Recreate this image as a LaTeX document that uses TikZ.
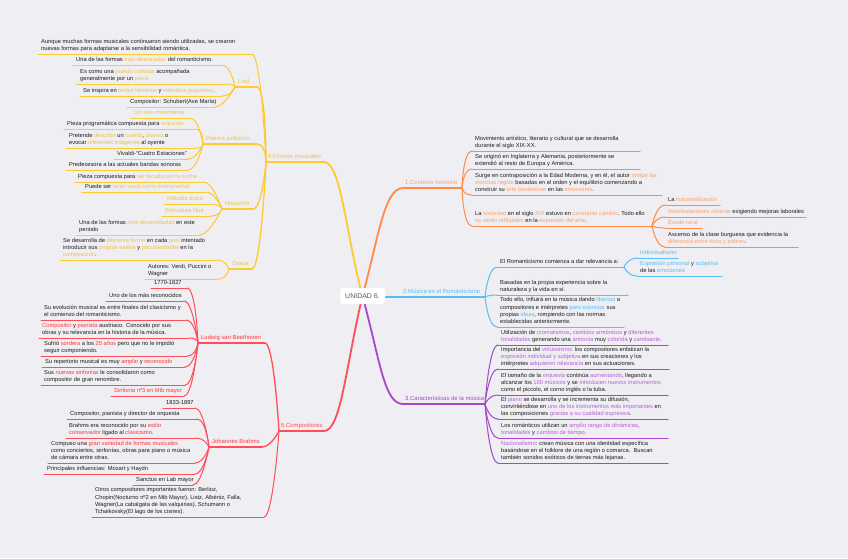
\documentclass[tikz,border=0pt]{standalone}
\usepackage{fontspec}
\newfontfamily\mmf{Liberation Sans}
\definecolor{bgc}{RGB}{238,238,243}
\definecolor{txt}{RGB}{30,30,30}
\definecolor{cor}{RGB}{255,140,66}
\definecolor{corl}{RGB}{255,160,105}
\definecolor{cbl}{RGB}{88,190,245}
\definecolor{cpu}{RGB}{168,72,200}
\definecolor{cpul}{RGB}{185,95,215}
\definecolor{cye}{RGB}{255,202,45}
\definecolor{cyel}{RGB}{240,194,70}
\definecolor{cre}{RGB}{255,78,88}
\definecolor{crel}{RGB}{255,55,55}
\newcommand\hO[1]{\textcolor{corl}{#1}}
\newcommand\hB[1]{\textcolor{cbl}{#1}}
\newcommand\hP[1]{\textcolor{cpul}{#1}}
\newcommand\hY[1]{\textcolor{cyel}{#1}}
\newcommand\hR[1]{\textcolor{crel}{#1}}
\tikzset{
 leaf/.style={font=\mmf\fontsize{5.75}{7.2}\selectfont, align=left, inner xsep=3pt, inner ysep=2pt, text=txt},
 lab/.style={font=\mmf\fontsize{5.9}{7.2}\selectfont, align=left, inner xsep=3pt, inner ysep=2.2pt},
 mlab/.style={font=\mmf\fontsize{5.9}{7.2}\selectfont, align=left, inner xsep=2pt, inner ysep=2.4pt},
 oT/.style={draw=cor,line width=1.8pt,line cap=round},
 oC/.style={draw=cor,line width=1pt,line cap=round},
 bT/.style={draw=cbl,line width=1.8pt,line cap=round},
 bC/.style={draw=cbl,line width=1pt,line cap=round},
 pT/.style={draw=cpu,line width=1.8pt,line cap=round},
 pC/.style={draw=cpu,line width=1pt,line cap=round},
 yT/.style={draw=cye,line width=1.8pt,line cap=round},
 yS/.style={draw=cye,line width=1.3pt,line cap=round},
 yC/.style={draw=cye,line width=1pt,line cap=round},
 rT/.style={draw=cre,line width=1.8pt,line cap=round},
 rS/.style={draw=cre,line width=1.3pt,line cap=round},
 rC/.style={draw=cre,line width=1pt,line cap=round},
 hub/.style={draw=none, fill=white, rounded corners=3pt, minimum width=45pt, minimum height=16pt, inner sep=0pt, font=\mmf\fontsize{7}{8}\selectfont, text={rgb,255:red,90;green,90;blue,90}}
}
\newcommand\mmleaf[7]{%
 \coordinate (#1-l) at (#2,#4);
 \coordinate (#1-r) at (#3,#4);
 \node[#6, anchor=south west] (#1) at (#1-l) {#7\rule[-1.3pt]{0pt}{1pt}};
 \draw[#5] (#1-l) -- (#1-r);
}
\newcommand\tor[3]{\draw[#1] (#2) .. controls +(0,0) and +(-9,0) .. (#3);}
\newcommand\tol[3]{\draw[#1] (#2) .. controls +(0,0) and +(9,0) .. (#3);}
\begin{document}
\begin{tikzpicture}[x=1pt,y=-1pt]
\fill[bgc] (0,0) rectangle (848,558);
\coordinate (ctr) at (362.5,296);

% ===== 1 Contexto historico (orange)
\mmleaf{t1}{403}{462}{188}{oT}{mlab,text=corl}{1.Contexto histórico}
\draw[oT] (ctr) .. controls (378,240) and (384,188) .. (t1-l);
\mmleaf{o1}{472}{640}{151}{oC}{leaf}{Movimiento artístico, literario y cultural que se desarrolla\\durante el siglo XIX-XX.}
\mmleaf{o2}{472}{640}{169}{oC}{leaf}{Se originó en Inglaterra y Alemania, posteriormente se\\extendió al resto de Europa y América.}
\mmleaf{o3}{472}{662}{195}{oC}{leaf}{Surge en contraposición a la Edad Moderna, y en él, el autor \hO{rompe las}\\\hO{estrictas reglas} basadas en el orden y el equilibrio comenzando a\\construir su \hO{arte basándose} en las \hO{emociones}.}
\mmleaf{o4}{472}{652}{226}{oC}{leaf}{La \hO{sociedad} en el siglo \hO{XIX} estuvo en \hO{constante cambio}. Todo ello\\\hO{se verán reflejados} en la \hO{expresión del arte}.}
\tor{oC}{t1-r}{o1-l}
\tor{oC}{t1-r}{o2-l}
\tor{oC}{t1-r}{o3-l}
\tor{oC}{t1-r}{o4-l}
\mmleaf{o41}{665}{720}{205}{oC}{leaf}{La \hO{industrialización}}
\mmleaf{o42}{665}{806}{217}{oC}{leaf}{\hO{Manifestaciones obreras} exigiendo mejoras laborales}
\mmleaf{o43}{665}{702}{228}{oC}{leaf}{\hO{Éxodo rural}}
\mmleaf{o44}{665}{798}{247}{oC}{leaf}{Ascenso de la clase burguesa que evidencia la\\\hO{diferencia entre ricos y pobres}.}
\tor{oC}{o4-r}{o41-l}
\tor{oC}{o4-r}{o42-l}
\tor{oC}{o4-r}{o43-l}
\tor{oC}{o4-r}{o44-l}

% ===== 2 Musica en el Romanticismo (blue)
\mmleaf{t2}{401}{485}{297}{bT}{mlab,text=cbl}{2.Música en el Romanticismo}
\draw[bT] (ctr |- t2-l) -- (t2-l);
\mmleaf{b1}{497}{624}{267}{bC}{leaf}{El Romanticismo comienza a dar relevancia a:}
\mmleaf{b2}{497}{628}{295}{bC}{leaf}{Basadas en la propia experiencia sobre la\\naturaleza y la vida en sí.}
\mmleaf{b3}{497}{624}{327}{bC}{leaf}{Todo ello, influirá en la música dando \hB{libertad} a\\compositores e intérpretes \hB{para expresar} sus\\propias \hB{ideas}, rompiendo con las normas\\establecidas anteriormente.}
\tor{bC}{t2-r}{b1-l}
\tor{bC}{t2-r}{b2-l}
\tor{bC}{t2-r}{b3-l}
\mmleaf{b11}{637}{678}{258}{bC}{leaf}{\hB{Individualismo}}
\mmleaf{b12}{637}{722}{276}{bC}{leaf}{\hB{Expresión personal} y \hB{subjetiva}\\de las \hB{emociones}}
\tor{bC}{b1-r}{b11-l}
\tor{bC}{b1-r}{b12-l}

% ===== 3 Caracteristicas (purple)
\mmleaf{t3}{403}{485}{404}{pT}{mlab,text=cpu}{3.Características de la música}
\draw[pT] (ctr) .. controls (380,360) and (384,404) .. (t3-l);
\mmleaf{p1}{498}{668}{345}{pC}{leaf}{Utilización de \hP{cromatismos}, \hP{cambios armónicos} y \hP{diferentes}\\\hP{tonalidades} generando una \hP{armonía} muy \hP{colorida} y \hP{cambiante}.}
\mmleaf{p2}{498}{669}{369}{pC}{leaf}{Importancia del \hP{virtuosismo}: los compositores enfatizan la\\\hP{expresión individual y subjetiva} en sus creaciones y los\\intérpretes \hP{adquieren relevancia} en sus actuaciones.}
\mmleaf{p3}{498}{668}{395}{pC}{leaf}{El tamaño de la \hP{orquesta} continúa \hP{aumentando}, llegando a\\alcanzar los \hP{100 músicos} y se \hP{introducen nuevos instrumentos}\\como el piccolo, el corno inglés o la tuba.}
\mmleaf{p4}{498}{668}{419}{pC}{leaf}{El \hP{piano} se desarrolla y se incrementa su difusión,\\convirtiéndose en \hP{uno de los instrumentos más importantes} en\\las composiciones \hP{gracias a su cualidad expresiva}.}
\mmleaf{p5}{498}{668}{438}{pC}{leaf}{Los románticos utilizan un \hP{amplio rango de dinámicas},\\\hP{tonalidades} y \hP{cambios de tiempo}.}
\mmleaf{p6}{498}{668}{463}{pC}{leaf}{\hP{Nacionalismo}: crean música con una identidad específica\\basándose en el folklore de una región o comarca.\ \ Buscan\\también sonidos exóticos de tierras más lejanas.}
\tor{pC}{t3-r}{p1-l}
\tor{pC}{t3-r}{p2-l}
\tor{pC}{t3-r}{p3-l}
\tor{pC}{t3-r}{p4-l}
\tor{pC}{t3-r}{p5-l}
\tor{pC}{t3-r}{p6-l}

% ===== 4 Formas musicales (yellow)
\mmleaf{t4}{266}{324}{162}{yT}{mlab,text=cyel}{4.Formas musicales}
\draw[yT] (ctr) .. controls (346,235) and (341,162) .. (t4-r);
\mmleaf{y0}{38}{252}{54}{yC}{leaf}{Aunque muchas formas musicales continuaron siendo utilizadas, se crearon\\nuevas formas para adaptarse a la sensibilidad romántica.}
\mmleaf{lied}{235}{257}{87}{yS}{lab,text=cyel}{Lied}
\mmleaf{ps}{203}{257}{144}{yS}{lab,text=cyel}{Poema sinfónico}
\mmleaf{noc}{222}{253}{209}{yS}{lab,text=cyel}{Nocturno}
\mmleaf{op}{229}{252}{269}{yS}{lab,text=cyel}{Ópera}
\tol{yC}{t4-l}{y0-r}
\tol{yS}{t4-l}{lied-r}
\tol{yS}{t4-l}{ps-r}
\tol{yS}{t4-l}{noc-r}
\tol{yS}{t4-l}{op-r}
% Lied
\mmleaf{l1}{73}{222}{65}{yC}{leaf}{Una de las formas \hY{más destacadas} del romanticismo.}
\mmleaf{l2}{77}{226}{84}{yC}{leaf}{Es como una \hY{poesía cantada} acompañada\\generalmente por un \hY{piano}}
\mmleaf{l3}{80}{222}{96}{yC}{leaf}{Se inspira en \hY{textos literarios} y \hY{melodías populares}.}
\mmleaf{l4}{127}{215}{107}{yC}{leaf}{Compositor: Schubert(Ave María)}
\tol{yC}{lied-l}{l1-r}
\tol{yC}{lied-l}{l2-r}
\tol{yC}{lied-l}{l3-r}
\tol{yC}{lied-l}{l4-r}
% Poema sinfonico
\mmleaf{ps1}{131}{190}{118}{yC}{leaf}{\hY{Un solo movimiento}}
\mmleaf{ps2}{64}{195}{129}{yC}{leaf}{Pieza programática compuesta para \hY{orquesta}}
\mmleaf{ps3}{66}{196}{148}{yC}{leaf}{Pretende \hY{describir} un \hY{cuento}, \hY{poema} o\\evocar \hY{diferentes imágenes} al oyente}
\mmleaf{ps4}{114}{188}{159}{yC}{leaf}{Vivaldi-“Cuatro Estaciones”}
\mmleaf{ps5}{66}{188}{170}{yC}{leaf}{Predecesora a las actuales bandas sonoras}
\tol{yC}{ps-l}{ps1-r}
\tol{yC}{ps-l}{ps2-r}
\tol{yC}{ps-l}{ps3-r}
\tol{yC}{ps-l}{ps4-r}
\tol{yC}{ps-l}{ps5-r}
% Nocturno
\mmleaf{n1}{75}{204}{182}{yC}{leaf}{Pieza compuesta para \hY{ser tocada por la noche}}
\mmleaf{n2}{82}{206}{192}{yC}{leaf}{Puede ser \hY{tanto vocal como instrumental}}
\mmleaf{n3}{164}{211}{204}{yC}{leaf}{\hY{Melodía dulce}}
\mmleaf{n4}{162}{211}{216}{yC}{leaf}{\hY{Estructura libre}}
\mmleaf{n5}{76}{200}{235}{yC}{leaf}{Una de las formas \hY{más desarrolladas} en este\\periodo}
\tol{yC}{noc-l}{n1-r}
\tol{yC}{noc-l}{n2-r}
\tol{yC}{noc-l}{n3-r}
\tol{yC}{noc-l}{n4-r}
\tol{yC}{noc-l}{n5-r}
% Opera
\mmleaf{op1}{60}{217}{260}{yC}{leaf}{Se desarrolla de \hY{diferente forma} en cada \hY{país} intentado\\introducir sus \hY{propios estilos} y \hY{peculiaridades} en la\\\hY{composición}.}
\mmleaf{op2}{145}{218}{279}{yC}{leaf}{Autores: Verdi, Puccini o\\Wagner}
\tol{yC}{op-l}{op1-r}
\tol{yC}{op-l}{op2-r}

% ===== 5 Compositores (red)
\mmleaf{t5}{279}{324}{431}{rT}{mlab,text=cre}{5.Compositores}
\draw[rT] (ctr) .. controls (346,365) and (341,431) .. (t5-r);
\mmleaf{bv}{198}{265}{343}{rS}{lab,text=crel}{Ludwig van Beethoven}
\mmleaf{br}{209}{262}{447}{rS}{lab,text=crel}{Johannes Brahms}
\mmleaf{ot}{92}{264}{517}{rC}{leaf}{Otros compositores importantes fueron: Berlioz,\\Chopin(Nocturno nº2 en Mib Mayor), Listz, Albéniz, Falla,\\Wagner(La cabalgata de las valquirias), Schumann o\\Tchaikovsky(El lago de los cisnes).}
\tol{rS}{t5-l}{bv-r}
\tol{rS}{t5-l}{br-r}
\tol{rC}{t5-l}{ot-r}
% Beethoven
\mmleaf{bv1}{151}{187}{288}{rC}{leaf}{1770-1827}
\mmleaf{bv2}{106}{184}{301}{rC}{leaf}{Uno de los más reconocidos}
\mmleaf{bv3}{41}{186}{320}{rC}{leaf}{Su evolución musical es entre finales del clasicismo y\\el comienzo del romanticismo.}
\mmleaf{bv4}{39}{189}{338}{rC}{leaf}{\hR{Compositor} y \hR{pianista} austriaco. Conocido por sus\\obras y su relevancia en la historia de la música.}
\mmleaf{bv5}{41}{187}{356}{rC}{leaf}{Sufrió \hR{sordera} a los \hR{25 años} pero que no le impidió\\seguir componiendo.}
\mmleaf{bv6}{42}{185}{367}{rC}{leaf}{Su repertorio musical es muy \hR{amplio} y \hR{reconocido}}
\mmleaf{bv7}{41}{185}{385}{rC}{leaf}{Sus \hR{nuevas sinfonías} le consolidaron como\\compositor de gran renombre.}
\mmleaf{bv8}{111}{184}{396}{rC}{leaf}{\hR{Sinfonía nº3 en Mib mayor}}
\tol{rC}{bv-l}{bv1-r}
\tol{rC}{bv-l}{bv2-r}
\tol{rC}{bv-l}{bv3-r}
\tol{rC}{bv-l}{bv4-r}
\tol{rC}{bv-l}{bv5-r}
\tol{rC}{bv-l}{bv6-r}
\tol{rC}{bv-l}{bv7-r}
\tol{rC}{bv-l}{bv8-r}
% Brahms
\mmleaf{br1}{163}{195}{408}{rC}{leaf}{1833-1897}
\mmleaf{br2}{67}{197}{419}{rC}{leaf}{Compositor, pianista y director de orquesta}
\mmleaf{br3}{66}{196}{438}{rC}{leaf}{Brahms era reconocido por su \hR{estilo}\\\hR{conservador} ligado al \hR{clasicismo}.}
\mmleaf{br4}{48}{195}{463}{rC}{leaf}{Compuso una \hR{gran variedad de formas musicales}\\como conciertos, sinfonías, obras para piano o música\\de cámara entre otras.}
\mmleaf{br5}{44}{195}{474}{rC}{leaf}{Principales influencias: Mozart y Haydn}
\mmleaf{br6}{133}{193}{485}{rC}{leaf}{Sanctus en Lab mayor}
\tol{rC}{br-l}{br1-r}
\tol{rC}{br-l}{br2-r}
\tol{rC}{br-l}{br3-r}
\tol{rC}{br-l}{br4-r}
\tol{rC}{br-l}{br5-r}
\tol{rC}{br-l}{br6-r}

% ===== centre
\node[hub] (u6) at (ctr) {UNIDAD 6.};
\end{tikzpicture}
\end{document}
